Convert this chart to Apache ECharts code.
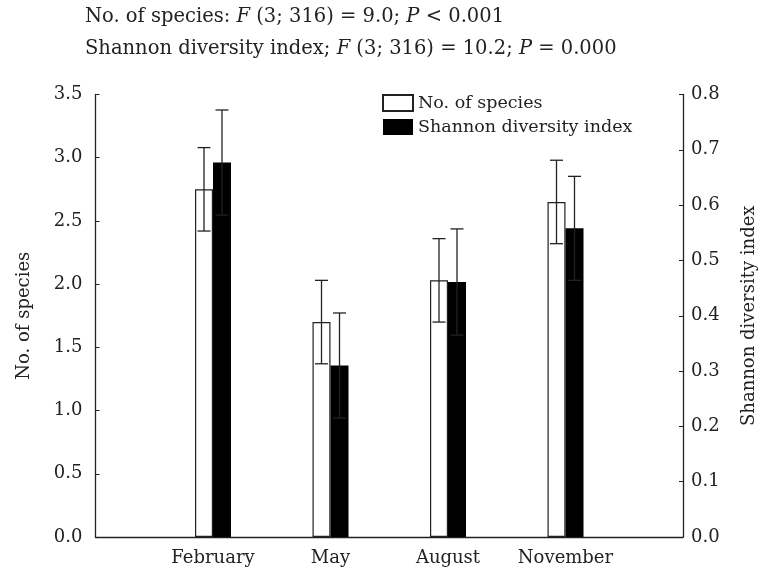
<!DOCTYPE html>
<html>
<head>
<meta charset="utf-8">
<script src="https://cdn.jsdelivr.net/npm/echarts@6/dist/echarts.min.js"></script>
<style>html,body{margin:0;padding:0;background:#fff;}#c{width:761px;height:576px;}</style>
</head>
<body>
<div id="c"></div>
<script>
var months = ['February', 'May', 'August', 'November'];
var speciesMean = [2.75, 1.70, 2.03, 2.65];
var speciesErr = [0.33, 0.33, 0.33, 0.33];
var shannonMean = [0.677, 0.31, 0.461, 0.558];
var shannonErr = [0.095, 0.095, 0.096, 0.094];
var leftTicks = [0, 3.5, 0.5];
var rightTicks = [0, 0.8, 0.1];

var FONT = 'DejaVu Serif';
var BW = 18;
var chart = echarts.init(document.getElementById('c'), null, {renderer: 'canvas'});

function errSeries(means, errs, axisIdx, side) {
  return {
    type: 'custom',
    yAxisIndex: axisIdx,
    z: 10,
    silent: true,
    data: means.map(function (m, i) { return [i + 1, m - errs[i], m + errs[i], m]; }),
    encode: {x: 0, y: [1, 2]},
    renderItem: function (params, api) {
      var lo = api.coord([api.value(0), api.value(1)]);
      var hi = api.coord([api.value(0), api.value(2)]);
      var x = lo[0] + side * BW / 2;
      var cap = 6.5;
      var st = {stroke: '#222', lineWidth: 1.3};
      return {type: 'group', children: [
        {type: 'line', shape: {x1: x, y1: lo[1], x2: x, y2: hi[1]}, style: st},
        {type: 'line', shape: {x1: x - cap, y1: hi[1], x2: x + cap, y2: hi[1]}, style: st},
        {type: 'line', shape: {x1: x - cap, y1: lo[1], x2: x + cap, y2: lo[1]}, style: st}
      ]};
    }
  };
}

var txt = {fontFamily: FONT, fontSize: 18, color: '#222'};
var rich = {
  n: {fontFamily: FONT, fontSize: 19.5, color: '#222', fontWeight: 'normal'},
  i: {fontFamily: FONT, fontSize: 19.5, color: '#222', fontWeight: 'normal', fontStyle: 'italic'}
};

var option = {
  backgroundColor: '#fff',
  animation: false,
  title: [
    {left: 85, top: 7, padding: 0, text: '{n|No. of species: }{i|F}{n| (3; 316) = 9.0; }{i|P}{n| < 0.001}', textStyle: {fontWeight: 'normal', rich: rich}},
    {left: 85, top: 39, padding: 0, text: '{n|Shannon diversity index; }{i|F}{n| (3; 316) = 10.2; }{i|P}{n| = 0.000}', textStyle: {fontWeight: 'normal', rich: rich}}
  ],
  legend: {
    orient: 'vertical', left: 382, top: 94, padding: 0, itemWidth: 30, itemHeight: 16, itemGap: 6,
    icon: 'rect',
    textStyle: {fontFamily: FONT, fontSize: 17.5, color: '#222'},
    data: ['No. of species', 'Shannon diversity index']
  },
  grid: {left: 95.5, right: 78, top: 94.5, bottom: 39, containLabel: false, outerBoundsMode: 'none'},
  xAxis: {
    type: 'value', min: 0, max: months.length + 1, interval: 1,
    axisLine: {show: true, lineStyle: {color: '#222', width: 1.3}},
    axisTick: {show: false},
    splitLine: {show: false},
    axisLabel: Object.assign({margin: 12, formatter: function (v) { return months[v - 1] || ''; }}, txt)
  },
  yAxis: [
    {
      type: 'value', min: leftTicks[0], max: leftTicks[1], interval: leftTicks[2], position: 'left',
      name: 'No. of species', nameLocation: 'middle', nameRotate: 90, nameGap: 62,
      nameTextStyle: txt,
      axisLine: {show: true, lineStyle: {color: '#222', width: 1.3}},
      axisTick: {show: true, inside: true, length: 4, lineStyle: {color: '#222'}},
      splitLine: {show: false},
      axisLabel: Object.assign({margin: 13, formatter: function (v) { return v.toFixed(1); }}, txt)
    },
    {
      type: 'value', min: rightTicks[0], max: rightTicks[1], interval: rightTicks[2], position: 'right',
      name: 'Shannon diversity index', nameLocation: 'middle', nameRotate: 90, nameGap: 57,
      nameTextStyle: txt,
      axisLine: {show: true, lineStyle: {color: '#222', width: 1.3}},
      axisTick: {show: true, inside: true, length: 4, lineStyle: {color: '#222'}},
      splitLine: {show: false},
      axisLabel: Object.assign({margin: 8, formatter: function (v) { return v.toFixed(1); }}, txt)
    }
  ],
  series: [
    {
      name: 'No. of species', type: 'bar', yAxisIndex: 0, barWidth: BW, barGap: '0%',
      itemStyle: {color: '#fff', borderColor: '#222', borderWidth: 1.2},
      data: speciesMean.map(function (v, i) { return [i + 1, v]; })
    },
    {
      name: 'Shannon diversity index', type: 'bar', yAxisIndex: 1, barWidth: BW, barGap: '0%',
      itemStyle: {color: '#000', borderColor: '#000', borderWidth: 0},
      data: shannonMean.map(function (v, i) { return [i + 1, v]; })
    },
    errSeries(speciesMean, speciesErr, 0, -1),
    errSeries(shannonMean, shannonErr, 1, 1)
  ]
};
chart.setOption(option);
</script>
</body>
</html>
